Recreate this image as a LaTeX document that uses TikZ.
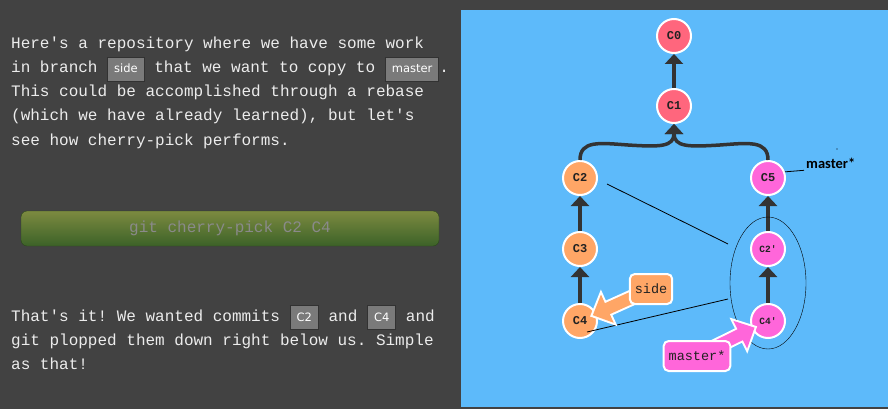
\documentclass[tikz,border=0pt]{standalone}
\usepackage{fontspec}
\setmonofont{Liberation Mono}
\setsansfont{DejaVu Sans}
\newfontfamily\notefont{Carlito}
\usepackage{xcolor}
\usetikzlibrary{arrows.meta, positioning, shapes.geometric}

\definecolor{darkbg}{RGB}{66,66,66}
\definecolor{panelblue}{RGB}{93,186,250}
\definecolor{paratext}{RGB}{236,236,236}
\definecolor{codefill}{RGB}{122,122,122}
\definecolor{codeedge}{RGB}{50,50,50}
\definecolor{btntop}{RGB}{124,138,64}
\definecolor{btnbottom}{RGB}{60,98,40}
\definecolor{btntext}{RGB}{138,138,138}
\definecolor{commitred}{RGB}{255,102,125}
\definecolor{commitorange}{RGB}{255,166,102}
\definecolor{commitpink}{RGB}{255,102,218}
\definecolor{edgeink}{RGB}{51,51,51}
\definecolor{tagink}{RGB}{34,34,34}

% inline code chip used in the instructions
\newcommand{\codebox}[1]{{\fboxsep=0pt\fboxrule=1pt\fcolorbox{codeedge}{codefill}{\hspace{6pt}\rule[-8pt]{0pt}{23pt}\textcolor{white}{\sffamily\fontsize{11.5}{11.5}\selectfont#1}\hspace{6pt}}}}

\begin{document}
\begin{tikzpicture}[x=1pt, y=-1pt,
  para/.style={anchor=base west, inner sep=0pt, text=paratext,
               font=\ttfamily\fontsize{16}{24}\selectfont},
  cmdbutton/.style={rectangle, rounded corners=6pt, draw=btnbottom!70!black,
                    top color=btntop, bottom color=btnbottom,
                    minimum width=418pt, minimum height=35pt, text=btntext,
                    font=\ttfamily\fontsize{16}{16}\selectfont},
  commit/.style={circle, draw=white, line width=2pt, minimum size=34pt,
                 inner sep=0pt, text=tagink,
                 font=\ttfamily\bfseries\fontsize{12}{12}\selectfont},
  copied/.style={commit, fill=commitpink,
                 font=\ttfamily\bfseries\fontsize{9.5}{10}\selectfont},
  commitedge/.style={draw=edgeink, line width=3.5pt,
                     -{Triangle[length=10pt,width=18pt]}},
  hintline/.style={draw=black, line width=0.8pt},
  branchtag/.style={rectangle, rounded corners=5pt, draw=white, line width=2pt,
                    minimum height=30pt, inner xsep=5pt, text=tagink,
                    font=\ttfamily\fontsize{13.5}{14}\selectfont},
  tagback/.style={draw=white, line width=16pt,
                  -{Triangle[length=21pt,width=39pt]}},
  tagfront/.style={line width=12pt, -{Triangle[length=16pt,width=30pt]}}
]
  \useasboundingbox (0,0) rectangle (888,409);
  \fill[darkbg] (0,0) rectangle (888,409);
  \fill[panelblue] (461,10) rectangle (888,407);

  % instructions
  \node[para] (t1) at (11,49) {Here's a repository where we have some work};
  \node[para] (t2) at (11,73) {in branch \codebox{side} that we want to copy to \codebox{master}.};
  \node[para] (t3) at (11,97) {This could be accomplished through a rebase};
  \node[para] (t4) at (11,121) {(which we have already learned), but let's};
  \node[para] (t5) at (11,145) {see how cherry-pick performs.};

  \node[cmdbutton] (pick) at (230,228.5) {git cherry-pick C2 C4};

  \node[para] (d1) at (11,321) {That's it! We wanted commits \codebox{C2} and \codebox{C4} and};
  \node[para] (d2) at (11,345) {git plopped them down right below us. Simple};
  \node[para] (d3) at (11,369) {as that!};

  % commits
  \node[commit, fill=commitred] (C0) at (674,36) {C0};
  \node[commit, fill=commitred] (C1) at (674,106) {C1};
  \node[commit, fill=commitorange] (C2) at (580,178) {C2};
  \node[commit, fill=commitorange] (C3) at (580,249) {C3};
  \node[commit, fill=commitorange] (C4) at (580,321) {C4};
  \node[commit, fill=commitpink] (C5) at (768,178) {C5};
  \node[copied] (C2p) at (768,249) {C2'};
  \node[copied] (C4p) at (768,321) {C4'};

  % parent links
  \draw[commitedge] (C1) -- (C0);
  \draw[commitedge] (C2.north) .. controls (580,140) and (600,143) .. (628,145)
                    .. controls (660,147) and (674,147) .. (C1.south);
  \draw[commitedge] (C5.north) .. controls (768,140) and (748,143) .. (720,145)
                    .. controls (688,147) and (674,147) .. (C1.south);
  \draw[commitedge] (C3) -- (C2);
  \draw[commitedge] (C4) -- (C3);
  \draw[commitedge] (C2p) -- (C5);
  \draw[commitedge] (C4p) -- (C2p);

  % hand-drawn marks
  \node[draw, ellipse, thin, minimum width=76pt, minimum height=132pt,
        inner sep=0pt] (picked) at (768,283) {};
  \coordinate (hintA) at (607,184);
  \coordinate (hintB) at (728,244);
  \coordinate (hintC) at (587,332);
  \coordinate (hintD) at (728,299);
  \draw[hintline] (hintA) -- (hintB);
  \draw[hintline] (hintC) -- (hintD);
  \node[anchor=base west, inner sep=2pt, font=\notefont\bfseries\fontsize{14.5}{14.5}\selectfont]
        (mnote) at (804,168) {master*};
  \draw[hintline] (C5.20) -- (mnote.south west);
  \fill[black] (837,149) circle (0.6);

  % branch pointers
  \coordinate (sidepos) at (651,289);
  \coordinate (masterpos) at (697,356);
  \draw[tagback, shorten >=-7pt] (sidepos) -- (C4);
  \draw[tagfront, commitorange, shorten >=-4pt] (sidepos) -- (C4);
  \draw[tagback, shorten >=-6pt] (masterpos) -- (C4p);
  \draw[tagfront, commitpink, shorten >=-3pt] (masterpos) -- (C4p);
  \node[branchtag, fill=commitorange] (side) at (sidepos) {side};
  \node[branchtag, fill=commitpink] (master) at (masterpos) {master*};
\end{tikzpicture}
\end{document}
